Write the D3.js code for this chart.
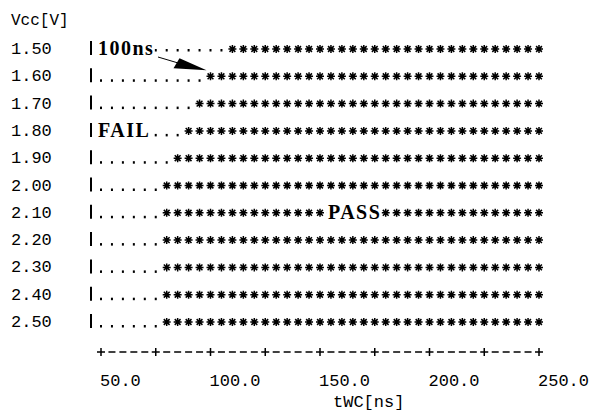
<!DOCTYPE html>
<html>
<head>
<meta charset="utf-8">
<script src="https://cdn.jsdelivr.net/npm/d3@7"></script>
<style>
  body { margin: 0; background: #fff; }
  text { fill: #000; }
</style>
</head>
<body>
<div id="chart"></div>
<script>
// shmoo plot: Vcc vs write cycle time tWC

var width = 590;
var height = 416;

// ---------- data ----------
var vccLevels = [1.50, 1.60, 1.70, 1.80, 1.90, 2.00, 2.10, 2.20, 2.30, 2.40, 2.50];
var vccLabels = ["1.50", "1.60", "1.70", "1.80", "1.90", "2.00", "2.10", "2.20", "2.30", "2.40", "2.50"];
// first passing tWC (ns) for every Vcc row, everything below fails
var passFrom = [110, 100, 95, 90, 85, 80, 80, 80, 80, 80, 80];
var tWCStep = 5;
var tWCMin = 50;
var tWCMax = 250;
var xTickValues = [50, 100, 150, 200, 250];
var xTickLabels = ["50.0", "100.0", "150.0", "200.0", "250.0"];
var notes = [
  { text: "100ns", vcc: 1.50, t: 50 },
  { text: "FAIL",  vcc: 1.80, t: 50 },
  { text: "PASS",  vcc: 2.10, t: 155 }
];

var monoFont = "'Liberation Mono', 'DejaVu Sans Mono', monospace";
var serifFont = "'Liberation Serif', 'DejaVu Serif', serif";

var svg = d3.select("#chart")
  .append("svg")
  .attr("width", width)
  .attr("height", height);

var x = d3.scaleLinear().domain([tWCMin, tWCMax]).range([101, 539]);
var y = d3.scaleLinear().domain([1.50, 2.50]).range([48, 321]);

var cols = d3.range(tWCMin, tWCMax + 1, tWCStep);

// ---------- y labels ----------
svg.append("text")
  .attr("x", 11).attr("y", 25)
  .style("font-family", monoFont).style("font-size", "16px")
  .text("Vcc[V]");

svg.selectAll(".ylab")
  .data(vccLevels)
  .enter().append("text")
  .attr("class", "ylab")
  .attr("x", 11)
  .attr("y", function(d) { return y(d) + 6; })
  .style("font-family", monoFont).style("font-size", "17px")
  .text(function(d, i) { return vccLabels[i]; });

// ---------- rows ----------
var rows = svg.selectAll(".row")
  .data(vccLevels)
  .enter().append("g")
  .attr("class", "row")
  .attr("transform", function(d) { return "translate(0," + y(d) + ")"; });

rows.append("line")
  .attr("x1", 91).attr("x2", 91)
  .attr("y1", -7).attr("y2", 7)
  .attr("stroke", "#000").attr("stroke-width", 2);

var asterisk = "M-4,0H4M0,-4V4M-2.9,-2.9L2.9,2.9M-2.9,2.9L2.9,-2.9";

rows.each(function(v, i) {
  var g = d3.select(this);
  var cells = cols.map(function(t) { return { t: t, pass: t >= passFrom[i] }; });

  // the top row prints its fail marks a little higher (middle dots)
  g.selectAll(".dot")
    .data(cells.filter(function(c) { return !c.pass; }))
    .enter().append("rect")
    .attr("x", function(c) { return x(c.t) - 1; })
    .attr("y", i === 0 ? 1 : 4)
    .attr("width", 2).attr("height", 2.5)
    .attr("fill", "#000");

  g.selectAll(".star")
    .data(cells.filter(function(c) { return c.pass; }))
    .enter().append("path")
    .attr("d", asterisk)
    .attr("transform", function(c) { return "translate(" + x(c.t) + ",1)"; })
    .attr("fill", "none")
    .attr("stroke", "#000")
    .attr("stroke-width", 1.5);
});

// ---------- x axis drawn as +----+ ----------
var axisY = 352;
svg.selectAll(".tick")
  .data(cols)
  .enter().append("path")
  .attr("d", function(t) {
    return t % 25 === 0 ? "M-4,0H4M0,-4V4" : "M-3.5,0H3.5";
  })
  .attr("transform", function(t) { return "translate(" + x(t) + "," + axisY + ")"; })
  .attr("stroke", "#000")
  .attr("stroke-width", 1.5);

svg.selectAll(".xlab")
  .data(xTickValues)
  .enter().append("text")
  .attr("x", function(d) { return x(d) - 1; })
  .attr("y", 386)
  .style("font-family", monoFont).style("font-size", "17px")
  .text(function(d, i) { return xTickLabels[i]; });

svg.append("text")
  .attr("x", 333).attr("y", 407)
  .style("font-family", monoFont).style("font-size", "17px")
  .text("tWC[ns]");

// ---------- annotations ----------
var noteG = svg.selectAll(".note")
  .data(notes)
  .enter().append("g")
  .attr("class", "note");

noteG.append("text")
  .attr("x", function(d) { return x(d.t) - 3; })
  .attr("y", function(d) { return y(d.vcc) + 7; })
  .style("font-family", serifFont)
  .style("font-size", "20px")
  .style("font-weight", "bold")
  .style("letter-spacing", "1.5px")
  .text(function(d) { return d.text; });

noteG.each(function() {
  var g = d3.select(this);
  var bb = g.select("text").node().getBBox();
  g.insert("rect", "text")
    .attr("x", bb.x - 1).attr("y", bb.y + 2)
    .attr("width", bb.width + 1).attr("height", bb.height - 3)
    .attr("fill", "#fff");
});

// arrow from 100ns to the first pass cell of the 1.60 row
var tip = [x(passFrom[1]) - 4, y(1.60) - 5];
svg.append("line")
  .attr("x1", 158).attr("y1", y(1.50) + 9)
  .attr("x2", tip[0] - 24).attr("y2", tip[1] - 6)
  .attr("stroke", "#000").attr("stroke-width", 1);
svg.append("path")
  .attr("d", "M" + tip[0] + "," + tip[1] +
    "L" + (tip[0] - 33) + "," + (tip[1] - 2) +
    "L" + (tip[0] - 27) + "," + (tip[1] - 12) + "Z")
  .attr("fill", "#000");
</script>
</body>
</html>
